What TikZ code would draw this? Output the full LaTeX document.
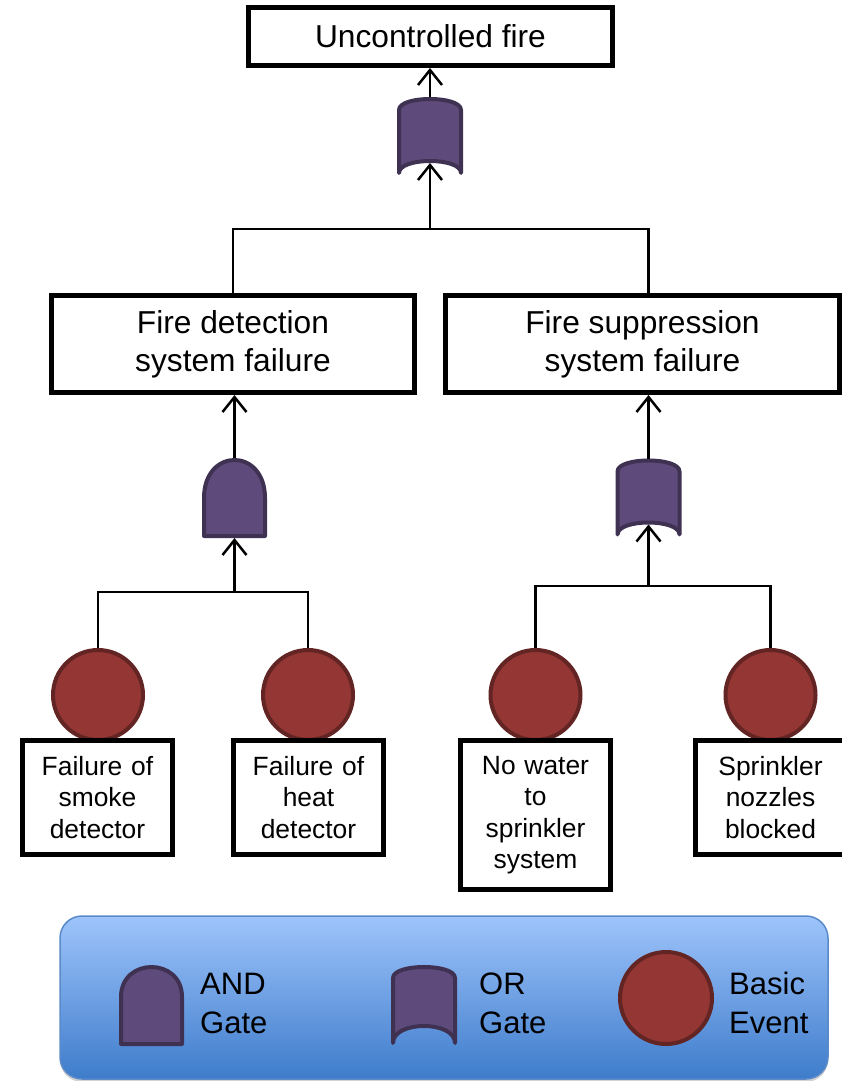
\documentclass[tikz,border=0pt]{standalone}
\usepackage{fontspec}
\setmainfont{Liberation Sans}
\usetikzlibrary{arrows.meta,shadows}
\definecolor{gatefill}{HTML}{5F4B7B}
\definecolor{gateline}{HTML}{3F3152}
\definecolor{evfill}{HTML}{943634}
\definecolor{evline}{HTML}{632523}
\definecolor{legtop}{HTML}{9EC4FB}
\definecolor{legbot}{HTML}{3E7CCB}
\definecolor{legline}{HTML}{5A8AC8}
\tikzset{
  gate/.style={fill=gatefill,draw=gateline,line width=4pt,line join=round},
  evcircle/.style={circle,fill=evfill,draw=evline,line width=4pt,minimum size=90pt,inner sep=0pt},
  bigbox/.style={draw=black,fill=white,line width=5pt,inner sep=0pt,align=center,
    font=\fontsize{31.7}{38}\selectfont},
  evbox/.style={draw=black,fill=white,line width=5pt,inner sep=0pt,align=center,
    text width=140pt,minimum width=150pt,font=\fontsize{26.4}{31.5}\selectfont},
  conn/.style={line width=2.3pt,black},
  arr/.style={conn,-{Straight Barb[length=15pt,width=24pt,line width=2.5pt]}},
  legtext/.style={anchor=west,align=left,inner sep=0pt,font=\fontsize{31}{39}\selectfont},
  orgate/.pic={
    \path[gate] (-31,37) -- (-31,-26) .. controls (-31,-40.7) and (31,-40.7) .. (31,-26)
      -- (31,37) .. controls (31,21) and (-31,21) .. (-31,37) -- cycle;
    \coordinate (-top) at (0,-39);
    \coordinate (-in) at (0,27);
  },
  andgate/.pic={
    \path[gate] (-30.5,38) -- (-30.5,0) .. controls (-30.5,-50.7) and (30.5,-50.7) .. (30.5,0)
      -- (30.5,38) -- cycle;
    \coordinate (-top) at (0,-40);
    \coordinate (-in) at (0,40);
  },
}
\begin{document}
\begin{tikzpicture}[x=1pt,y=-1pt]
\useasboundingbox (0,0) rectangle (842,1081);

% boxes
\node[bigbox,minimum width=364pt,minimum height=58pt] (top) at (430.5,36.5) {Uncontrolled fire};
\node[bigbox,minimum width=363pt,minimum height=97pt] (mL) at (233,344) {Fire detection\\system failure};
\node[bigbox,minimum width=394pt,minimum height=97pt] (mR) at (642.5,344) {Fire suppression\\system failure};

% gates
\pic (g1) at (430,136) {orgate};
\pic (g2) at (234.5,498) {andgate};
\pic (g3) at (648.5,497.5) {orgate};

% basic events
\node[evcircle] (cA) at (98,695) {};
\node[evcircle] (cB) at (308,695) {};
\node[evcircle] (cC) at (535.5,695) {};
\node[evcircle] (cD) at (770.5,695) {};

\node[evbox,minimum height=114pt] (eA) at (97.5,797.5) {Failure of\\smoke\\detector};
\node[evbox,minimum height=114pt] (eB) at (308.5,797.5) {Failure of\\heat\\detector};
\node[evbox,minimum height=149pt] (eC) at (535.5,815) {No water\\to\\sprinkler\\system};
\node[evbox,minimum height=114pt] (eD) at (770.5,797.5) {Sprinkler\\nozzles\\blocked};

% junctions
\coordinate (j0) at (430,229);
\coordinate (j1) at (234.5,592);
\coordinate (j2) at (648.5,586);

% connectors
\draw[arr] (g1-top) -- (top.south -| g1-top);
\draw[arr] (j0) -- (g1-in);
\draw[conn] (mL.north) |- (j0) -| (mR.north -| g3-top);

\draw[arr] (g2-top) -- (mL.south -| g2-top);
\draw[arr] (j1) -- (g2-in);
\draw[conn] (cA.north) |- (j1) -| (cB.north);

\draw[arr] (g3-top) -- (mR.south -| g3-top);
\draw[arr] (j2) -- (g3-in);
\draw[conn] (cC.north) |- (j2) -| (cD.north);

% legend
\node[rounded corners=22pt,minimum width=768pt,minimum height=163pt,
      top color=legtop,bottom color=legbot,draw=legline,line width=1.5pt,
      drop shadow={shadow xshift=0pt,shadow yshift=-3pt,opacity=0.35}] (leg) at (444,997.5) {};
\path[gate] (121,1044) -- (121,997) .. controls (121,957) and (182,957) .. (182,997)
  -- (182,1044) -- cycle;
\path[gate] (393,1043) -- (393,978) .. controls (393,963.3) and (455,963.3) .. (455,978)
  -- (455,1043) .. controls (455,1020.3) and (393,1020.3) .. (393,1043) -- cycle;
\node[evcircle,minimum size=92pt] (lc) at (666,998) {};
\node[legtext] (lt1) at (200,1003) {AND\\Gate};
\node[legtext] (lt2) at (479,1003) {OR\\Gate};
\node[legtext] (lt3) at (729,1003) {Basic\\Event};
\end{tikzpicture}
\end{document}
